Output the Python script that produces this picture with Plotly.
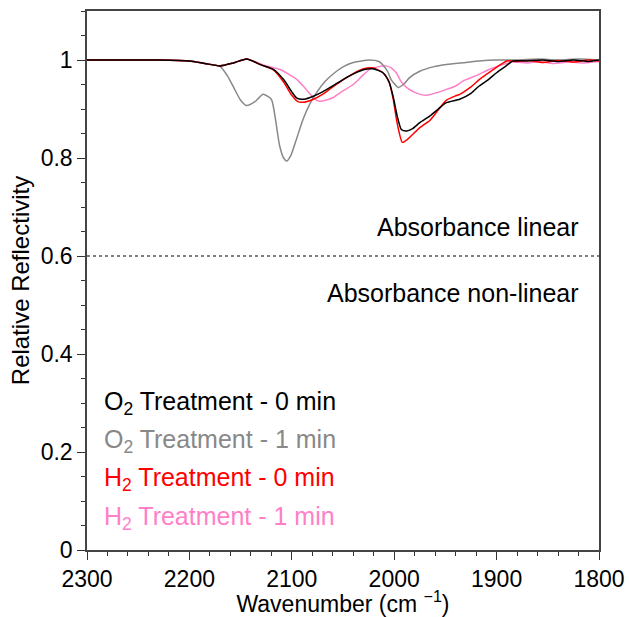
import plotly.graph_objects as go

# ---- data ----
o2_0_x = [2300, 2260, 2230, 2200, 2185, 2170, 2157, 2144, 2130, 2118, 2108, 2100, 2095, 2088, 2079, 2070, 2060, 2045, 2030, 2021, 2011, 2005, 2001, 1997, 1993, 1988, 1982, 1975, 1965, 1957, 1949, 1936, 1925, 1917, 1908, 1900, 1892, 1884, 1870, 1855, 1840, 1825, 1810, 1800]
o2_0_y = [1.0, 1.0, 1.0, 0.998, 0.993, 0.988, 0.994, 1.002, 0.99, 0.981, 0.96, 0.935, 0.922, 0.92, 0.926, 0.935, 0.947, 0.966, 0.98, 0.982, 0.974, 0.955, 0.925, 0.885, 0.858, 0.855, 0.86, 0.872, 0.886, 0.9, 0.913, 0.92, 0.932, 0.947, 0.96, 0.974, 0.986, 0.998, 0.998, 1.0, 0.997, 1.0, 0.997, 1.0]

o2_1_x = [2300, 2260, 2230, 2200, 2185, 2170, 2163, 2157, 2150, 2144, 2136, 2128, 2120, 2116, 2112, 2108, 2105, 2101, 2096, 2089, 2082, 2076, 2068, 2060, 2050, 2040, 2024, 2015, 2011, 2006, 2003, 1996, 1990, 1985, 1975, 1962, 1949, 1930, 1917, 1900, 1880, 1860, 1840, 1820, 1800]
o2_1_y = [1.0, 1.0, 1.0, 0.998, 0.993, 0.987, 0.968, 0.945, 0.918, 0.907, 0.915, 0.93, 0.92, 0.88, 0.826, 0.8, 0.794, 0.805, 0.835, 0.879, 0.912, 0.933, 0.955, 0.971, 0.986, 0.995, 1.0, 0.997, 0.99, 0.975, 0.96, 0.944, 0.952, 0.964, 0.977, 0.986, 0.991, 0.995, 0.998, 1.0, 1.0, 1.002, 1.0, 1.002, 1.0]

h2_0_x = [2300, 2260, 2230, 2200, 2185, 2170, 2157, 2144, 2130, 2118, 2108, 2100, 2094, 2088, 2079, 2070, 2060, 2045, 2030, 2021, 2011, 2005, 2001, 1997, 1992, 1987, 1982, 1975, 1965, 1957, 1949, 1940, 1936, 1925, 1917, 1905, 1890, 1880, 1868, 1855, 1840, 1825, 1810, 1800]
h2_0_y = [1.0, 1.0, 1.0, 0.998, 0.993, 0.988, 0.994, 1.002, 0.99, 0.98, 0.955, 0.928, 0.915, 0.914, 0.92, 0.93, 0.945, 0.966, 0.982, 0.984, 0.974, 0.955, 0.92, 0.87, 0.832, 0.838, 0.848, 0.862, 0.877, 0.898, 0.918, 0.927, 0.93, 0.945, 0.96, 0.978, 0.998, 0.997, 0.999, 0.995, 0.999, 0.996, 1.0, 0.998]

h2_1_x = [2300, 2260, 2230, 2200, 2185, 2170, 2157, 2144, 2128, 2112, 2104, 2095, 2088, 2082, 2076, 2073, 2067, 2060, 2050, 2040, 2032, 2024, 2016, 2008, 2003, 1998, 1993, 1988, 1980, 1969, 1959, 1949, 1940, 1933, 1920, 1907, 1895, 1884, 1870, 1858, 1845, 1830, 1815, 1800]
h2_1_y = [1.0, 1.0, 1.0, 0.998, 0.993, 0.988, 0.994, 1.002, 0.99, 0.981, 0.972, 0.96, 0.945, 0.93, 0.918, 0.916, 0.918, 0.923, 0.937, 0.95, 0.966, 0.981, 0.986, 0.988, 0.984, 0.974, 0.955, 0.944, 0.934, 0.928, 0.933, 0.94, 0.947, 0.957, 0.968, 0.981, 0.99, 0.996, 0.994, 0.997, 0.993, 0.996, 0.994, 0.997]

series = [
    ("O<sub>2</sub> Treatment - 0 min", o2_0_x, o2_0_y, "#000000"),
    ("O<sub>2</sub> Treatment - 1 min", o2_1_x, o2_1_y, "#888888"),
    ("H<sub>2</sub> Treatment - 0 min", h2_0_x, h2_0_y, "#ff0000"),
    ("H<sub>2</sub> Treatment - 1 min", h2_1_x, h2_1_y, "#ff80c8"),
]
# draw order: light curves underneath
draw_order = [3, 1, 2, 0]

y_tickvals = [0, 0.2, 0.4, 0.6, 0.8, 1.0]
y_ticktext = ["0", "0.2", "0.4", "0.6", "0.8", "1"]
x_tickvals = [2300, 2200, 2100, 2000, 1900, 1800]
legend_y = [0.300, 0.222, 0.145, 0.066]

FONT = "Liberation Sans, Arial, sans-serif"
fig = go.Figure()
for i in draw_order:
    name, xs, ys, col = series[i]
    fig.add_trace(go.Scatter(x=xs, y=ys, mode="lines", name=name,
                             line=dict(color=col, width=1.5, shape="spline", smoothing=0.6),
                             showlegend=False))

fig.add_shape(type="line", xref="paper", x0=0, x1=1, yref="y", y0=0.6, y1=0.6,
              line=dict(color="#555555", width=1.5, dash="dot"))

for (name, xs, ys, col), ly in zip(series, legend_y):
    fig.add_annotation(text=name, xref="paper", x=0.029, yref="y", y=ly,
                       xanchor="left", yanchor="middle", showarrow=False,
                       font=dict(size=25, color=col, family=FONT))

fig.add_annotation(text="Absorbance linear", xref="x", x=1818, yref="y", y=0.66,
                   xanchor="right", yanchor="middle", showarrow=False,
                   font=dict(size=25, color="#000000", family=FONT))
fig.add_annotation(text="Absorbance non-linear", xref="x", x=1818, yref="y", y=0.525,
                   xanchor="right", yanchor="middle", showarrow=False,
                   font=dict(size=25, color="#000000", family=FONT))

fig.update_layout(
    width=629, height=617,
    margin=dict(l=87, r=30, t=11, b=67),
    plot_bgcolor="white", paper_bgcolor="white",
    font=dict(family=FONT, size=23, color="#000000"),
    showlegend=False,
)
fig.update_xaxes(range=[2300, 1800], tickvals=x_tickvals, ticks="outside", ticklen=8,
                 tickwidth=1.2, tickcolor="#333333", automargin=False,
                 minor=dict(dtick=20, ticks="outside", ticklen=4, tickcolor="#333333", tickwidth=1),
                 showline=True, linecolor="#444444", linewidth=1.5, mirror=True,
                 showgrid=False, zeroline=False,
                 title=dict(text="Wavenumber (cm <sup>−1</sup>)", font=dict(size=23), standoff=0),
                 tickfont=dict(size=23))
fig.update_yaxes(range=[0, 1.1], tickvals=y_tickvals, ticktext=y_ticktext, ticks="outside", ticklen=8,
                 tickwidth=1.2, tickcolor="#333333", automargin=False,
                 minor=dict(dtick=0.05, ticks="outside", ticklen=4, tickcolor="#333333", tickwidth=1),
                 showline=True, linecolor="#444444", linewidth=1.5, mirror=True,
                 showgrid=False, zeroline=False,
                 title=dict(text="Relative Reflectivity", font=dict(size=24), standoff=4),
                 tickfont=dict(size=23))

fig.write_html("out.html")
